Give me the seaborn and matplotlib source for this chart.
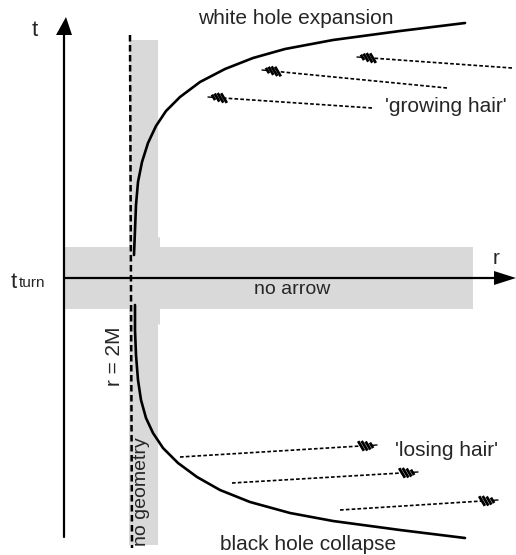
import numpy as np
import matplotlib
matplotlib.use("Agg")
import matplotlib.pyplot as plt
import seaborn as sns
import pandas as pd

# courbes (r, t) : t_turn en t=0, l'axe t en r=0
white_r = [70, 71, 72, 74, 78, 84, 92, 102, 116, 136, 161, 189, 221, 269, 336, 401]
white_t = [23, 48, 73, 96, 116, 135, 152, 167, 181, 196, 209, 220, 229, 238, 247, 255]
black_r = [71, 71, 72, 74, 77, 82, 89, 99, 114, 133, 156, 186, 226, 269, 336, 401]
black_t = [-27, -52, -77, -102, -122, -140, -155, -170, -185, -199, -212, -224, -235,
           -243, -252, -260]

# horizon r = 2M et bande "no geometry"
r_2m = 66
band_r = [65, 94]
band_t = [-267, 238]

# bande "no arrow" (forme de flèche vers la gauche)
arrow_band_r = [0, 69, 96, 96, 409, 409, 96, 96, 69, 0]
arrow_band_t = [31, 31, 41, 31, 31, -31, -31, -47, -31, -31]

# 'growing hair' (vers la gauche) et 'losing hair' (vers la droite) : queue -> tête
grow_tail_r = [448, 383, 308]
grow_tail_t = [210, 190, 170]
grow_head_r = [293, 198, 144]
grow_head_t = [221, 208, 181]
lose_tail_r = [116, 168, 276]
lose_tail_t = [-179, -205, -232]
lose_head_r = [313, 354, 434]
lose_head_t = [-167, -194, -222]

grey = "#d9d9d9"

sns.set_style("white")
plt.rcParams["font.family"] = ["Liberation Sans", "DejaVu Sans"]

fig = plt.figure(figsize=(5.16, 5.55), dpi=100)
ax = fig.add_axes([0, 0, 1, 1])
ax.set_xlim(-64, 452)
ax.set_ylim(-277, 278)
ax.axis("off")

# zones grisées
ax.fill_between(band_r, band_t[0], band_t[1], color=grey, lw=0, zorder=1)
ax.fill(arrow_band_r, arrow_band_t, color=grey, lw=0, zorder=1)

# axes t et r avec leurs flèches
ax.plot([0, 0], [-259, 243], color="black", lw=1.6, zorder=3)
ax.fill([-8, 8, 2], [243, 243, 261], color="black", lw=0, zorder=3)
ax.plot([0, 430], [0, 0], color="black", lw=1.6, zorder=3)
ax.fill([430, 430, 452], [7, -7, 0], color="black", lw=0, zorder=3)

# r = 2M en tirets
ax.plot([r_2m, r_2m + 2], [243, -270], color="black", lw=1.8,
        dashes=(2.6, 1.4), zorder=2)

# expansion du trou blanc / effondrement du trou noir
curves = pd.DataFrame({
    "r": white_r + black_r,
    "t": white_t + black_t,
    "which": ["white"] * len(white_r) + ["black"] * len(black_r),
})
sns.lineplot(data=curves, x="r", y="t", units="which", estimator=None,
             sort=False, color="black", lw=1.9, ax=ax, zorder=4)


def hair(tails_r, tails_t, heads_r, heads_t):
    for r0, t0, r1, t1 in zip(tails_r, tails_t, heads_r, heads_t):
        d = np.array([r1 - r0, t1 - t0], float)
        d /= np.hypot(*d)
        ax.plot([r0, r1 - 16 * d[0]], [t0, t1 - 16 * d[1]], color="black",
                lw=1.2, dashes=(2.2, 1.3), zorder=3)
        # petites hachures de la tête
        ax.plot([r1, r1 - 5 * d[0]], [t1, t1 - 5 * d[1]], color="black", lw=1.0, zorder=3)
        for k, h in enumerate([2.7, 4.0, 4.8, 4.8]):
            cr = r1 - (5.5 + 3.5 * k) * d[0]
            ct = t1 - (5.5 + 3.5 * k) * d[1]
            ax.plot([cr - 0.6 * h, cr + 0.6 * h], [ct + h, ct - h],
                    color="black", lw=2.0, solid_capstyle="butt", zorder=3)


hair(grow_tail_r, grow_tail_t, grow_head_r, grow_head_t)
hair(lose_tail_r, lose_tail_t, lose_head_r, lose_head_t)

fs = 15
ax.text(-29, 248, "t", fontsize=16, ha="center", va="center")
ax.text(432, 19, "r", fontsize=15, ha="center", va="center")
ax.text(-53, -4, "t", fontsize=16, ha="left", va="center")
ax.text(-45, -5, "turn", fontsize=11, ha="left", va="center")
ax.text(134, 260, "white hole expansion", fontsize=fs, ha="left", va="center")
ax.text(321, 171, "'growing hair'", fontsize=fs, ha="left", va="center")
ax.text(228, -12, "no arrow", fontsize=14, ha="center", va="center")
ax.text(51, -78, "r = 2M", fontsize=fs, rotation=90, ha="center", va="center")
ax.text(77, -214, "no geometry", fontsize=14, rotation=90, ha="center", va="center")
ax.text(331, -172, "'losing hair'", fontsize=fs, ha="left", va="center")
ax.text(156, -267, "black hole collapse", fontsize=fs, ha="left", va="center")

fig.savefig("out.png", dpi=100)
